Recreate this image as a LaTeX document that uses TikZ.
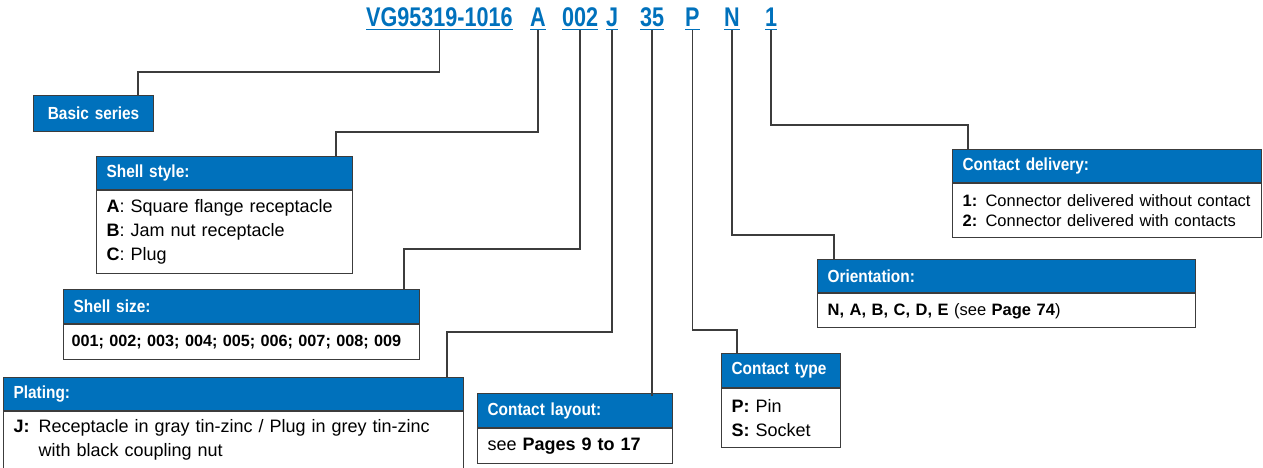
\documentclass[tikz,border=0pt]{standalone}
\usepackage{fontspec}
\setmainfont{Liberation Sans}
\newfontfamily\condhd[FakeStretch=0.88]{Liberation Sans}
\newfontfamily\condtt[FakeStretch=0.8]{Liberation Sans}
\definecolor{bblue}{RGB}{0,113,188}
\definecolor{edge}{RGB}{60,60,60}
\begin{document}
\begin{tikzpicture}[x=1pt,y=-1pt,
  code/.style={font=\condtt\bfseries\fontsize{27}{30}\selectfont, text=bblue, inner sep=0pt, anchor=base west},
  uline/.style={draw=bblue, line width=1.5pt},
  hdr/.style={draw=edge, line width=1.2pt, fill=bblue, text=white, font=\condhd\bfseries\fontsize{17.5}{20}\selectfont, anchor=north west, inner xsep=10pt, inner ysep=0pt, align=left},
  body/.style={draw=edge, line width=1.2pt, fill=white, anchor=north west, inner xsep=10pt, inner ysep=0pt, align=left, font=\fontsize{18}{24}\selectfont},
  conn/.style={draw=edge, line width=1.5pt}]
\useasboundingbox (0,0) rectangle (1263,468);

% code line
\node[code] (tV) at (366,27) {VG95319-1016};
\node[code] (tA) at (530,27) {A};
\node[code] (t002) at (562,27) {002};
\node[code] (tJ) at (606,27) {J};
\node[code] (t35) at (640,27) {35};
\node[code] (tP) at (685,27) {P};
\node[code] (tN) at (724,27) {N};
\node[code] (t1) at (765,27) {1};
\foreach \n in {tV,tA,t002,tJ,t35,tP,tN,t1}{
  \draw[uline] ([yshift=-2.5pt]\n.base west) -- ([yshift=-2.5pt]\n.base east);
}

% boxes
\node[hdr, minimum width=120pt, minimum height=36pt, text width=100pt, align=center] (bs) at (33,95) {Basic series};

\node[hdr, text width=236pt, minimum height=33pt] (ssH) at (96,156) {Shell style:};
\node[body, text width=236pt, minimum height=83pt] (ssB) at (ssH.south west) {\textbf{A}: Square flange receptacle\\\textbf{B}: Jam nut receptacle\\\textbf{C}: Plug};

\node[hdr, text width=336pt, minimum height=34pt] (szH) at (63,289) {Shell size:};
\node[body, inner xsep=8pt, text width=340pt, minimum height=35pt, font=\bfseries\fontsize{16.2}{20}\selectfont] (szB) at (szH.south west) {\mbox{001; 002; 003; 004; 005; 006; 007; 008; 009}};

\node[hdr, text width=440pt, minimum height=33pt] (plH) at (3,377) {Plating:};
\node[body, text width=440pt, minimum height=57pt] (plB) at (plH.south west) {\makebox[25pt][l]{\textbf{J:}}Receptacle in gray tin-zinc / Plug in grey tin-zinc\\\hspace*{25pt}with black coupling nut};

\node[hdr, text width=175pt, minimum height=34pt] (clH) at (477,393) {Contact layout:};
\node[body, text width=175pt, minimum height=35pt] (clB) at (clH.south west) {see \textbf{Pages 9 to 17}};

\node[hdr, text width=99pt, minimum height=34pt] (ctH) at (721,353) {Contact type};
\node[body, text width=99pt, minimum height=59pt] (ctB) at (ctH.south west) {\textbf{P:} Pin\\\textbf{S:} Socket};

\node[hdr, text width=358pt, minimum height=33pt] (orH) at (817,259) {Orientation:};
\node[body, text width=358pt, minimum height=34pt, font=\fontsize{16.5}{20}\selectfont] (orB) at (orH.south west) {\textbf{N, A, B, C, D, E} (see \textbf{Page 74})};

\node[hdr, text width=289pt, minimum height=33pt] (cdH) at (952,149) {Contact delivery:};
\node[body, text width=289pt, minimum height=54pt, font=\fontsize{16.5}{20}\selectfont] (cdB) at (cdH.south west) {\textbf{1:} Connector delivered without contact\\\textbf{2:} Connector delivered with contacts};

% connectors
\draw[conn] ([yshift=-3pt]tV.base) -- ++(0,42) -| ([xshift=-16pt]bs.north east);
\draw[conn] ([yshift=-3pt]tA.base) -- ++(0,102) -| ([xshift=-17pt]ssH.north east);
\draw[conn] ([yshift=-3pt]t002.base) -- ++(0,219) -| ([xshift=-16pt]szH.north east);
\draw[conn] ([yshift=-3pt]tJ.base) -- ++(0,302) -| ([xshift=-17pt]plH.north east);
\draw[conn] ([yshift=-3pt]t35.base) -- ([yshift=-3pt]t35.base |- clH.north);
\draw[conn] ([yshift=-3pt]tP.base) -- ++(0,300) -| ([xshift=16pt]ctH.north west);
\draw[conn] ([yshift=-3pt]tN.base) -- ++(0,205) -| ([xshift=17pt]orH.north west);
\draw[conn] ([yshift=-3pt]t1.base) -- ++(0,95) -| ([xshift=16pt]cdH.north west);
\end{tikzpicture}
\end{document}
